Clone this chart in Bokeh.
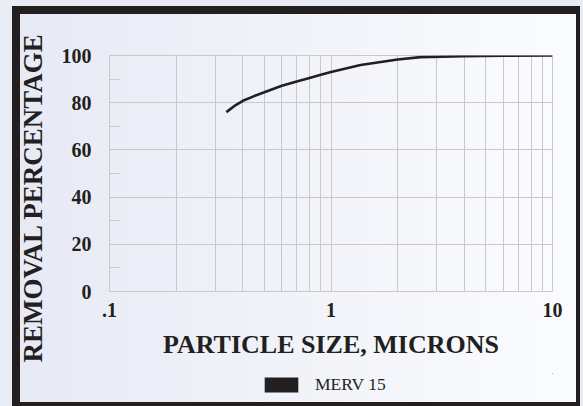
from bokeh.plotting import figure
from bokeh.layouts import column
from bokeh.models import (FixedTicker, Legend, LegendItem, Title,
                          GlobalInlineStyleSheet, ColumnDataSource)
from bokeh.embed import file_html
from bokeh.resources import INLINE

# ---- data ----
particle_size = [0.337, 0.37, 0.4, 0.45, 0.5, 0.6, 0.7, 0.8, 0.9, 1.0, 1.36, 2.0, 2.54, 4.0, 6.0, 10.0]
removal_pct = [76.0, 78.9, 80.8, 82.8, 84.4, 87.2, 89.0, 90.5, 91.8, 93.0, 96.0, 98.3, 99.3, 99.7, 99.9, 100.0]
series_name = "MERV 15"

x_ticks = [0.1, 1, 10]
x_tick_labels = [".1", "1", "10"]
x_minor = [0.2, 0.3, 0.4, 0.5, 0.6, 0.7, 0.8, 0.9, 2, 3, 4, 5, 6, 7, 8, 9]
y_ticks = [0, 20, 40, 60, 80, 100]
y_minor = [10, 30, 50, 70, 90]

INK = "#231f20"
GRID = "#c9c9cc"
FONT = "Liberation Serif"

p = figure(width=583, height=373, x_axis_type="log",
           x_range=(0.1, 10), y_range=(0, 100),
           output_backend="svg", toolbar_location=None,
           min_border_left=109, min_border_right=31,
           min_border_top=55, min_border_bottom=82)
p.border_fill_color = None
p.background_fill_color = None
p.outline_line_color = GRID

# grids
p.xaxis.ticker = FixedTicker(ticks=x_ticks, minor_ticks=x_minor)
p.yaxis.ticker = FixedTicker(ticks=y_ticks, minor_ticks=y_minor)
p.xgrid.ticker = p.xaxis.ticker
p.ygrid.ticker = p.yaxis.ticker
for g in (p.xgrid, p.ygrid):
    g.grid_line_color = GRID
    g.grid_line_width = 1
p.xgrid.minor_grid_line_color = GRID
p.xgrid.minor_grid_line_width = 1

# axes
p.xaxis.major_label_overrides = {t: l for t, l in zip(x_ticks, x_tick_labels)}
for ax in (p.xaxis, p.yaxis):
    ax.axis_line_color = None
    ax.major_tick_line_color = None
    ax.major_label_text_font = FONT
    ax.major_label_text_font_style = "bold"
    ax.major_label_text_font_size = "20px"
    ax.major_label_text_color = INK
    ax.axis_label_text_font = FONT
    ax.axis_label_text_font_style = "bold"
    ax.axis_label_text_color = INK
p.xaxis.axis_label_text_font_size = "26px"
p.xaxis.minor_tick_line_color = None
p.yaxis.minor_tick_line_color = GRID
p.yaxis.minor_tick_in = 10
p.yaxis.minor_tick_out = 0
p.yaxis.major_label_standoff = 12
p.xaxis.major_label_standoff = 5
p.xaxis.axis_label = "PARTICLE SIZE, MICRONS"
p.xaxis.axis_label_standoff = 10

# y title: starts below the frame's bottom edge, as in the original
ytitle = Title(text="REMOVAL PERCENTAGE", align="left", offset=-71,
               text_font=FONT, text_font_style="bold", text_font_size="27px",
               text_color=INK, standoff=22)
p.add_layout(ytitle, "left")

src = ColumnDataSource(dict(x=particle_size, y=removal_pct))
p.line("x", "y", source=src, line_color=INK, line_width=2.6)

# legend strip below the chart (its frame is aligned with the chart's frame)
lg = figure(width=583, height=33, x_range=(0, 1), y_range=(0, 1),
            output_backend="svg", toolbar_location=None,
            min_border=0, x_axis_location=None, y_axis_location=None)
lg.grid.visible = False
lg.border_fill_color = None
lg.background_fill_color = None
lg.outline_line_color = None
# the series as zero-size, unstroked blocks outside this strip's range: only supplies the swatch
swatch = lg.block(x="x", y="y", width=0, height=0, source=src,
                  fill_color=INK, line_color=None)
legend = Legend(items=[LegendItem(label=series_name, renderers=[swatch])],
                location=(151, 11), orientation="horizontal",
                glyph_width=42, glyph_height=19, label_height=19,
                label_standoff=13, padding=0, margin=0, spacing=0,
                label_text_font=FONT, label_text_font_size="17.5px",
                label_text_color=INK, border_line_color=None,
                background_fill_alpha=0)
lg.add_layout(legend, "center")

layout = column(p, lg, spacing=0)
layout.stylesheets = [GlobalInlineStyleSheet(css="html, body { background: #e9ecf5; }")]
# outer page tint, dark frame and a light left-to-right gradient panel
layout.styles = {
    "background": "linear-gradient(to right, #e7eaf5, #fbfcfe) 20px 14px / 556px 388px no-repeat, "
                  "linear-gradient(#231f20, #231f20) 12px 6px / 568px 402px no-repeat, "
                  "#e9ecf5"
}

open("out.html", "w").write(file_html(layout, INLINE))
